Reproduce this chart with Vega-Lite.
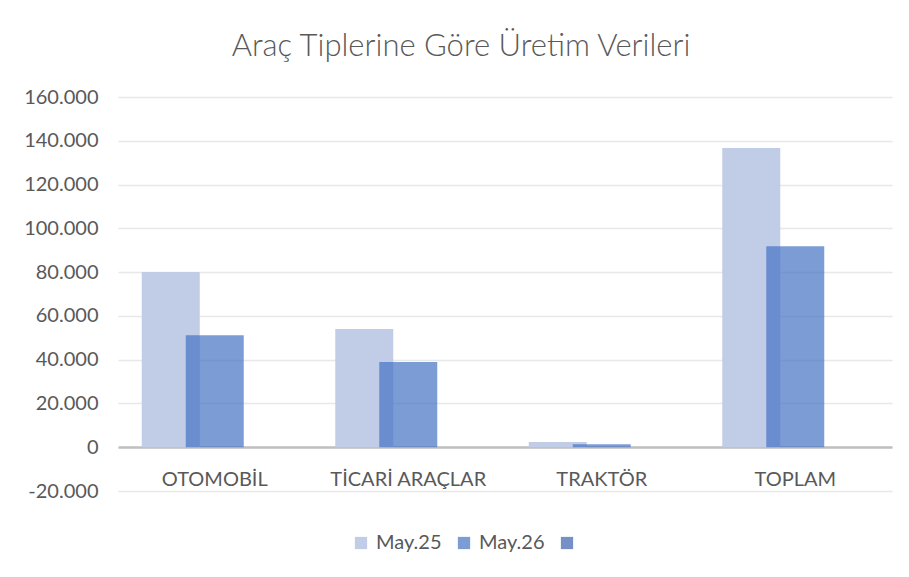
{
  "$schema": "https://vega.github.io/schema/vega-lite/v6.json",
  "width": 774,
  "height": 394,
  "autosize": {"type": "none"},
  "padding": {"left": 118, "top": 97, "right": 17, "bottom": 86},
  "background": "white",
  "title": {
    "text": "Araç Tiplerine Göre Üretim Verileri",
    "font": "Lato",
    "fontWeight": 300,
    "fontSize": 31,
    "color": "#595959",
    "anchor": "middle",
    "dx": -44,
    "offset": 24
  },
  "data": {
    "values": [
      {"kategori": "OTOMOBİL", "donem": "May.25", "uretim": 80000},
      {"kategori": "TİCARİ ARAÇLAR", "donem": "May.25", "uretim": 54000},
      {"kategori": "TRAKTÖR", "donem": "May.25", "uretim": 2400},
      {"kategori": "TOPLAM", "donem": "May.25", "uretim": 136700},
      {"kategori": "OTOMOBİL", "donem": "May.26", "uretim": 51200},
      {"kategori": "TİCARİ ARAÇLAR", "donem": "May.26", "uretim": 38900},
      {"kategori": "TRAKTÖR", "donem": "May.26", "uretim": 1400},
      {"kategori": "TOPLAM", "donem": "May.26", "uretim": 91800},
      {"kategori": "OTOMOBİL", "donem": " ", "uretim": 0},
      {"kategori": "TİCARİ ARAÇLAR", "donem": " ", "uretim": 0},
      {"kategori": "TRAKTÖR", "donem": " ", "uretim": 0},
      {"kategori": "TOPLAM", "donem": " ", "uretim": 0}
    ]
  },
  "mark": {"type": "bar", "width": 58},
  "encoding": {
    "x": {
      "field": "kategori",
      "type": "nominal",
      "sort": ["OTOMOBİL", "TİCARİ ARAÇLAR", "TRAKTÖR", "TOPLAM"],
      "scale": {"paddingInner": 0.318, "paddingOuter": 0.159},
      "axis": {
        "title": null,
        "orient": "bottom",
        "offset": -44,
        "labelAngle": 0,
        "ticks": false,
        "domainColor": "#bfbfbf",
        "domainWidth": 2.5,
        "labelFont": "Lato",
        "labelFontSize": 20,
        "labelColor": "#595959",
        "labelPadding": 22,
        "grid": false
      }
    },
    "xOffset": {
      "field": "donem",
      "type": "nominal",
      "sort": ["May.25", "May.26", " "],
      "scale": {"paddingInner": 0, "paddingOuter": 0}
    },
    "y": {
      "field": "uretim",
      "type": "quantitative",
      "scale": {"domain": [-20000, 160000], "nice": false, "zero": false},
      "axis": {
        "title": null,
        "values": [-20000, 0, 20000, 40000, 60000, 80000, 100000, 120000, 140000, 160000],
        "format": ",d",
        "domain": false,
        "ticks": false,
        "labelFont": "Lato",
        "labelFontSize": 20,
        "labelColor": "#595959",
        "labelPadding": 20,
        "gridColor": "#e8e8e8",
        "gridWidth": 1.5
      }
    },
    "color": {
      "field": "donem",
      "type": "nominal",
      "sort": ["May.25", "May.26", " "],
      "scale": {"domain": ["May.25", "May.26", " "], "range": ["#c1cce7", "#4472c4", "#7590c6"]},
      "legend": {
        "title": null,
        "orient": "none",
        "direction": "horizontal",
        "legendX": 233,
        "legendY": 436,
        "symbolType": "square",
        "symbolSize": 150,
        "symbolStrokeWidth": 0,
        "labelFont": "Lato",
        "labelFontSize": 20,
        "labelColor": "#595959",
        "labelOffset": 5,
        "columnPadding": 12,
        "symbolOpacity": 1,
        "encode": {
          "symbols": {
            "update": {"fillOpacity": {"signal": "datum.value === 'May.26' ? 0.7 : 1"}}
          }
        }
      }
    },
    "fillOpacity": {
      "condition": {"test": "datum.donem === 'May.26'", "value": 0.7},
      "value": 1
    },
    "order": {"field": "donem", "sort": "ascending"}
  },
  "config": {
    "locale": {
      "number": {"decimal": ",", "thousands": ".", "grouping": [3], "currency": ["", " ₺"], "minus": "-"}
    },
    "view": {"stroke": null}
  }
}
